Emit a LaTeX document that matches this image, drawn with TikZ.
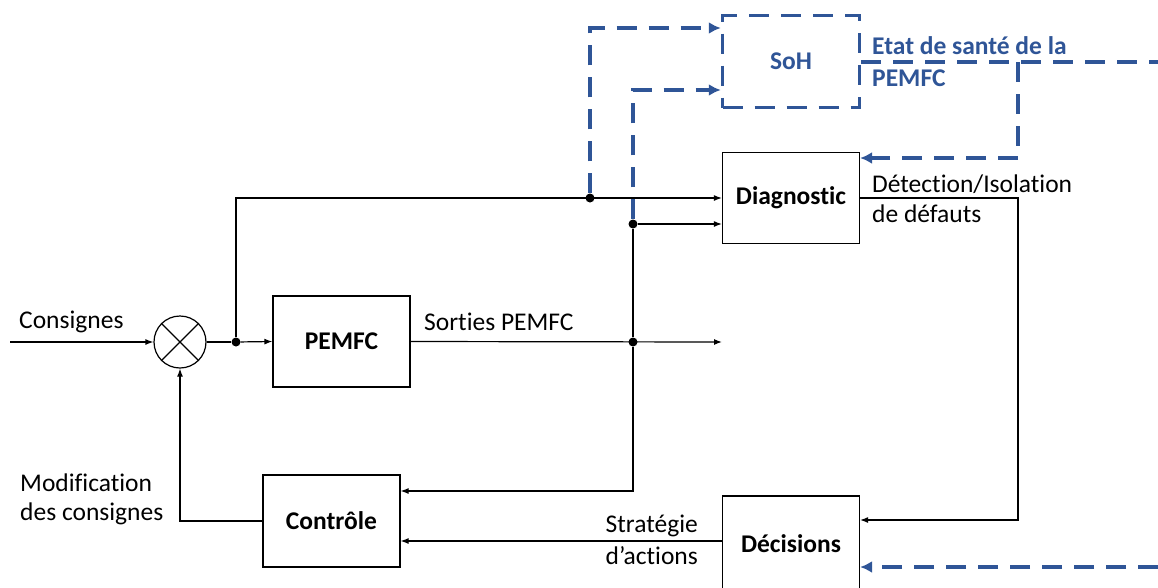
\documentclass[tikz,border=0pt]{standalone}
\usepackage{fontspec}
\setmainfont{Carlito}[Ligatures={NoCommon}]
\usetikzlibrary{arrows.meta}
\definecolor{sohblue}{HTML}{2F5597}
\begin{document}
\begin{tikzpicture}[x=1pt,y=-1pt,
  txt/.style={font=\fontsize{25.5}{28}\selectfont, inner sep=0pt},
  box/.style={draw, line width=1.2pt, minimum width=137pt, minimum height=91pt, font=\bfseries\fontsize{25.5}{28}\selectfont},
  dbox/.style={draw=sohblue, line width=3.5pt, dash pattern=on 20pt off 12pt, minimum width=137pt, minimum height=92pt, text=sohblue, font=\bfseries\fontsize{25.5}{28}\selectfont},
  sig/.style={line width=1.2pt, -{Latex[length=8pt,width=6pt]}},
  dsh/.style={draw=sohblue, line width=3.5pt, dash pattern=on 20pt off 12pt},
  darr/.style={-{Latex[length=12pt,width=12pt]}},
  jdot/.style={circle, fill, inner sep=0pt, minimum size=9pt}]
\useasboundingbox (0,0) rectangle (1158,587);
% blocks
\node[box] (pemfc) at (341.5,341.5) {PEMFC};
\node[box] (diag) at (791,198) {Diagnostic};
\node[dbox] (soh) at (791,61.5) {SoH};
\node[box, minimum height=92pt] (ctrl) at (331.5,521) {Contrôle};
\node[box, minimum height=95pt] (dec) at (791,543.5) {Décisions};
\node[draw, circle, line width=1.2pt, minimum size=52pt, inner sep=0pt] (sum) at (180,342) {};
\draw[line width=1.2pt] (sum.north west) -- (sum.south east) (sum.north east) -- (sum.south west);
% junctions
\node[jdot] (j1) at (236,342) {};
\node[jdot] (j2) at (590,198) {};
\node[jdot] (j3) at (633,342) {};
\node[jdot] (j4) at (633,224) {};
% coordinates
\coordinate (in) at (10,342);
\coordinate (out) at (722,342);
\coordinate (c1) at (633,491);
\coordinate (s1) at (590,28);
\coordinate (s2) at (633,90);
\coordinate (e1) at (1158,62);
\coordinate (e2) at (1018,62);
\coordinate (e3) at (1018,158);
\coordinate (d1) at (1018,198);
\coordinate (d2) at (1018,520);
\coordinate (e4) at (1158,567);
\coordinate (r1) at (0,541);
% blue dashed connections
\draw[dsh, darr] (j2) -- (s1) -- (soh.west |- s1);
\draw[dsh, darr] (j4) -- (s2) -- (soh.west |- s2);
\draw[dsh] (soh.east |- e1) -- (e1);
\draw[dsh, darr] (e2) -- (e3) -- (diag.east |- e3);
\draw[dsh, darr] (e4) -- (dec.east |- e4);
% black signals
\draw[sig] (in) -- (sum.west);
\draw[line width=1.2pt] (sum.east) -- (j1);
\draw[sig] (j1) -- (pemfc.west);
\draw[sig] (j1) |- (diag.west);
\draw[sig] (pemfc.east) -- (out);
\draw[line width=1.2pt] (j3) -- (j4);
\draw[sig] (j4) -- (diag.west |- j4);
\draw[sig] (j3) -- (c1) -- (ctrl.east |- c1);
\draw[sig] (diag.east) -- (d1) -- (d2) -- (dec.east |- d2);
\draw[sig] (dec.west |- r1) -- (ctrl.east |- r1);
\draw[sig] (ctrl.west) -| (sum.south);
% labels
\node[txt, anchor=west] (l1) at (19,322) {Consignes};
\node[txt, anchor=west] (l2) at (424,322) {Sorties PEMFC};
\node[txt, anchor=west] (l3) at (872,184) {Détection/Isolation};
\node[txt, anchor=west] (l4) at (872,214) {de défauts};
\node[txt, anchor=west, text=sohblue, font=\bfseries\fontsize{25.5}{28}\selectfont] (l5) at (872,46) {Etat de santé de la};
\node[txt, anchor=west, text=sohblue, font=\bfseries\fontsize{25.5}{28}\selectfont] (l6) at (872,78) {PEMFC};
\node[txt, anchor=east] (l7) at (698,526) {Stratégie};
\node[txt, anchor=east] (l8) at (698,556) {d’actions};
\node[txt, anchor=west] (l9) at (20,483) {Modification};
\node[txt, anchor=west] (l10) at (20,514) {des consignes};
\end{tikzpicture}
\end{document}
